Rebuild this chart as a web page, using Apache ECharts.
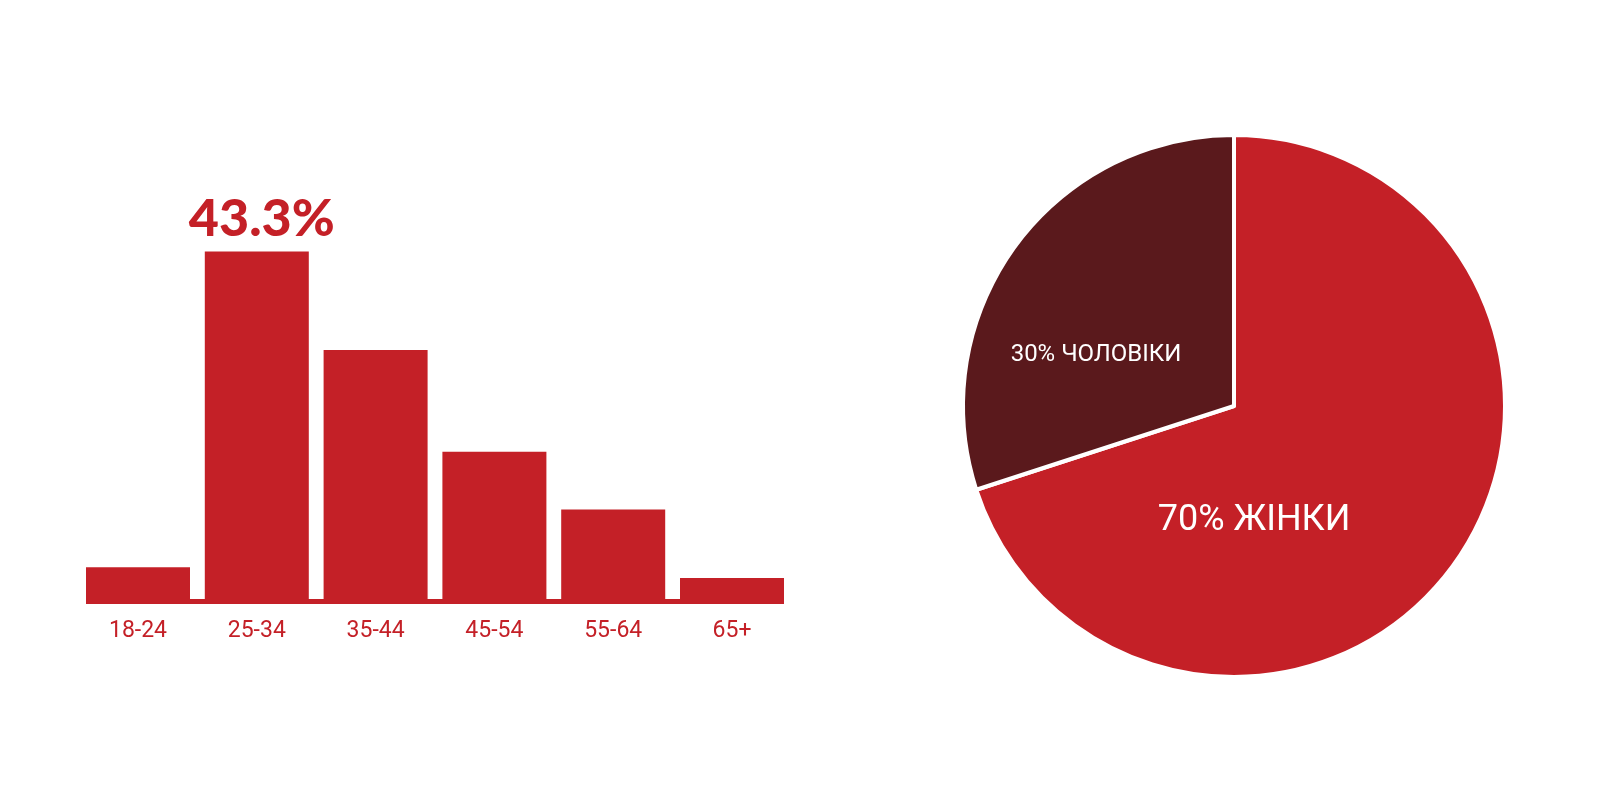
<!DOCTYPE html>
<html>
<head>
<meta charset="utf-8">
<script src="https://cdn.jsdelivr.net/npm/echarts@6/dist/echarts.min.js"></script>
<style>
html,body{margin:0;padding:0;background:#fff;}
#chart{width:1600px;height:800px;}
</style>
</head>
<body>
<div id="chart"></div>
<script>
// ---- data ----
const ageGroups = ['18-24', '25-34', '35-44', '45-54', '55-64', '65+'];
const ageShares = [4.5, 43.3, 31.2, 18.7, 11.6, 3.2];
const highlightIndex = 1;
const genderNames = ['ЖІНКИ', 'ЧОЛОВІКИ'];
const genderShares = [70, 30];

// ---- styles ----
const RED = '#C42027';
const DARK = '#5A191C';

const chart = echarts.init(document.getElementById('chart'), null, {renderer: 'canvas'});

const barData = ageShares.map((v, i) => i === highlightIndex
  ? {value: v, label: {show: true}}
  : {value: v});

const option = {
  backgroundColor: '#ffffff',
  animation: false,
  grid: {left: 78.6, right: 1600 - 791.4, top: 197, bottom: 196, containLabel: false},
  xAxis: {
    type: 'category',
    data: ageGroups,
    axisLine: {show: false},
    axisTick: {show: false},
    splitLine: {show: false},
    axisLabel: {
      color: RED,
      fontFamily: 'Roboto',
      fontWeight: 400,
      fontSize: 23,
      margin: 16
    }
  },
  yAxis: {
    type: 'value',
    min: 0,
    max: 50,
    show: false,
    splitLine: {show: false}
  },
  series: [
    {
      type: 'bar',
      data: barData,
      barWidth: 104,
      itemStyle: {color: RED},
      label: {
        show: false,
        position: 'top',
        distance: 6,
        offset: [5, 0],
        formatter: '{c}%',
        color: RED,
        fontFamily: 'Lato',
        fontWeight: 900,
        fontSize: 52
      }
    },
    {
      type: 'pie',
      center: [1234, 406],
      radius: 271,
      startAngle: 90,
      clockwise: true,
      data: genderNames.map((n, i) => ({name: n, value: genderShares[i]})),
      itemStyle: {borderColor: '#ffffff', borderWidth: 4},
      color: [RED, DARK],
      label: {
        show: true,
        position: 'inside',
        color: '#ffffff',
        fontFamily: 'Roboto',
        fontWeight: 400,
        formatter: p => p.value + '% ' + p.name
      },
      labelLine: {show: false},
      emphasis: {disabled: true},
      labelLayout: function (params) {
        if (params.dataIndex === 0) {
          return {dx: -46, dy: 17, fontSize: 36};
        }
        return {dx: -13, dy: 15, fontSize: 24};
      }
    }
  ]
};

chart.setOption(option);

// baseline under the bars, from first bar's left edge to last bar's right edge
const halfBar = 52;
const p0 = chart.convertToPixel({seriesIndex: 0}, [0, 0]);
const pN = chart.convertToPixel({seriesIndex: 0}, [ageGroups.length - 1, 0]);
chart.setOption({
  graphic: [{
    type: 'rect',
    shape: {x: p0[0] - halfBar, y: p0[1] - 5, width: (pN[0] + halfBar) - (p0[0] - halfBar), height: 5},
    style: {fill: RED},
    z: 10
  }]
});
</script>
</body>
</html>
